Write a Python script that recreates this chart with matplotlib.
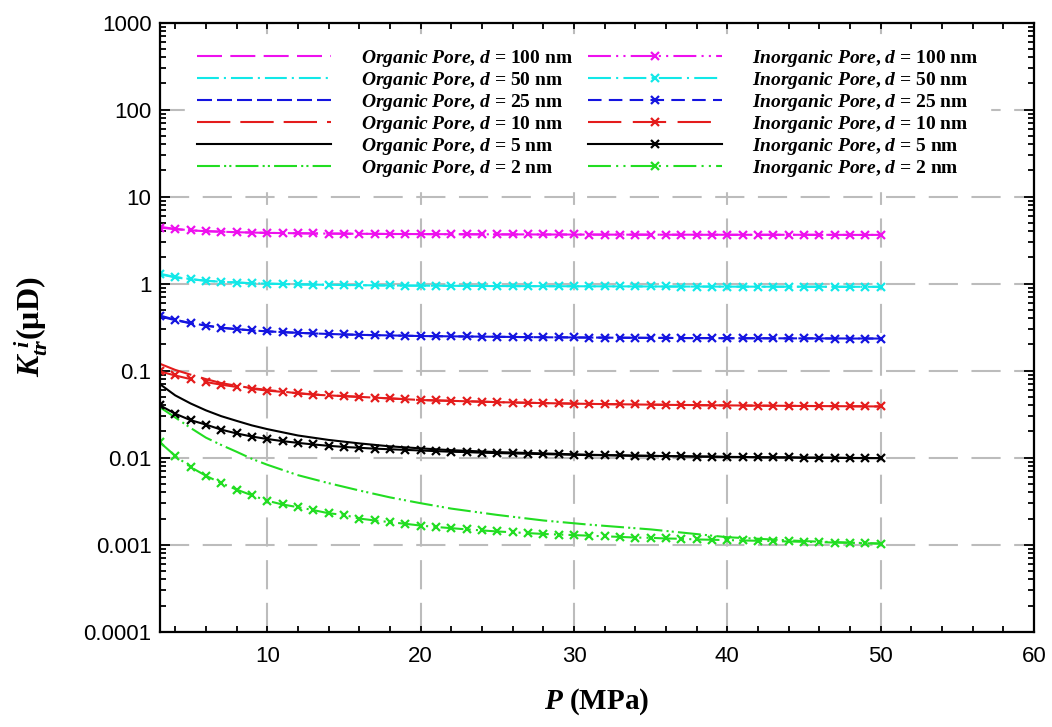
"""
Apparent permeability K_tr^i vs pore pressure for organic and inorganic
pores of different diameters (log y-axis), two-column legend on top.
"""

import matplotlib
matplotlib.use("Agg")
import matplotlib.pyplot as plt
from matplotlib.ticker import FixedLocator, MultipleLocator, LogLocator, FuncFormatter, NullFormatter

# ---- data ----
# inorganic pores are sampled every 1 MPa (each sample is an 'x' marker)
P_INORG = [3, 4, 5, 6, 7, 8, 9, 10, 11, 12, 13, 14, 15, 16, 17, 18, 19, 20,
           21, 22, 23, 24, 25, 26, 27, 28, 29, 30, 31, 32, 33, 34, 35, 36, 37,
           38, 39, 40, 41, 42, 43, 44, 45, 46, 47, 48, 49, 50]
# organic pores: plain lines, coarser sampling
P_ORG = [3, 4, 5, 6, 7, 8, 9, 10, 12, 14, 16, 18, 20, 22, 25, 28, 31, 35, 40, 45, 50]

DIAMETERS = [100, 50, 25, 10, 5, 2]

org_100 = [4.50, 4.25, 4.10, 4.00, 3.95, 3.90, 3.86, 3.83, 3.79, 3.76, 3.74,
           3.72, 3.71, 3.70, 3.68, 3.67, 3.66, 3.65, 3.64, 3.64, 3.63]
org_50 = [1.30, 1.19, 1.13, 1.08, 1.05, 1.03, 1.01, 1.00, 0.98, 0.97, 0.96,
          0.952, 0.948, 0.944, 0.938, 0.935, 0.932, 0.928, 0.924, 0.921, 0.919]
org_25 = [0.43, 0.385, 0.352, 0.33, 0.312, 0.30, 0.29, 0.283, 0.272, 0.264,
          0.258, 0.254, 0.25, 0.248, 0.245, 0.242, 0.240, 0.238, 0.236, 0.235, 0.234]
org_10 = [0.120, 0.102, 0.090, 0.080, 0.072, 0.067, 0.063, 0.060, 0.055, 0.052,
          0.050, 0.048, 0.046, 0.045, 0.0435, 0.0424, 0.0415, 0.0407, 0.0399,
          0.0393, 0.0388]
org_5 = [0.070, 0.052, 0.042, 0.035, 0.030, 0.0265, 0.0235, 0.0213, 0.0180,
         0.0160, 0.0146, 0.0135, 0.0128, 0.0122, 0.0116, 0.0112, 0.0108, 0.0105,
         0.0102, 0.0100, 0.0099]
org_2 = [0.038, 0.029, 0.022, 0.0170, 0.0140, 0.0117, 0.0097, 0.0083, 0.0063,
         0.0051, 0.0042, 0.0035, 0.0030, 0.0026, 0.0022, 0.0019, 0.0017, 0.0015,
         0.00122, 0.0011, 0.00103]

inorg_100 = [4.40, 4.22, 4.10, 4.01, 3.95, 3.90, 3.86, 3.83, 3.81, 3.79, 3.77,
             3.76, 3.75, 3.74, 3.73, 3.72, 3.72, 3.71, 3.70, 3.70, 3.69, 3.69,
             3.68, 3.68, 3.68, 3.67, 3.67, 3.67, 3.66, 3.66, 3.66, 3.66, 3.65,
             3.65, 3.65, 3.65, 3.65, 3.64, 3.64, 3.64, 3.64, 3.64, 3.64, 3.63,
             3.63, 3.63, 3.63, 3.63]
inorg_50 = [1.28, 1.18, 1.12, 1.08, 1.05, 1.03, 1.01, 1.00, 0.99, 0.98, 0.975,
            0.97, 0.965, 0.96, 0.955, 0.952, 0.95, 0.948, 0.946, 0.944, 0.942,
            0.94, 0.938, 0.937, 0.936, 0.935, 0.934, 0.933, 0.932, 0.931, 0.93,
            0.929, 0.928, 0.927, 0.926, 0.925, 0.925, 0.924, 0.923, 0.923, 0.922,
            0.922, 0.921, 0.921, 0.92, 0.92, 0.919, 0.919]
inorg_25 = [0.42, 0.38, 0.35, 0.33, 0.31, 0.30, 0.29, 0.283, 0.277, 0.272,
            0.268, 0.264, 0.261, 0.258, 0.256, 0.254, 0.252, 0.250, 0.249, 0.248,
            0.247, 0.246, 0.245, 0.244, 0.243, 0.242, 0.242, 0.241, 0.240, 0.240,
            0.239, 0.239, 0.238, 0.238, 0.237, 0.237, 0.237, 0.236, 0.236, 0.236,
            0.235, 0.235, 0.235, 0.235, 0.234, 0.234, 0.234, 0.234]
inorg_10 = [0.098, 0.088, 0.080, 0.074, 0.069, 0.065, 0.062, 0.059, 0.057, 0.055,
            0.053, 0.052, 0.051, 0.050, 0.049, 0.048, 0.047, 0.046, 0.0455, 0.045,
            0.0445, 0.044, 0.0435, 0.043, 0.0427, 0.0424, 0.0421, 0.0418, 0.0415,
            0.0413, 0.0411, 0.0409, 0.0407, 0.0405, 0.0403, 0.0401, 0.040, 0.0399,
            0.0397, 0.0396, 0.0395, 0.0394, 0.0393, 0.0392, 0.0391, 0.039, 0.0389,
            0.0388]
inorg_5 = [0.040, 0.032, 0.027, 0.024, 0.021, 0.019, 0.0175, 0.0164, 0.0155,
           0.0148, 0.0142, 0.0137, 0.0133, 0.0130, 0.0127, 0.0125, 0.0123, 0.0121,
           0.0119, 0.0117, 0.0116, 0.0114, 0.0113, 0.0112, 0.0111, 0.0110, 0.0109,
           0.0108, 0.0107, 0.0107, 0.0106, 0.0105, 0.0105, 0.0104, 0.0104, 0.0103,
           0.0103, 0.0102, 0.0102, 0.0101, 0.0101, 0.0101, 0.0100, 0.0100, 0.0100,
           0.0099, 0.0099, 0.0099]
inorg_2 = [0.0150, 0.0105, 0.0078, 0.0062, 0.0051, 0.0043, 0.0037, 0.0032, 0.0029,
           0.0027, 0.0025, 0.0023, 0.0022, 0.0020, 0.0019, 0.00182, 0.00174,
           0.00166, 0.0016, 0.00155, 0.0015, 0.00146, 0.00142, 0.00139, 0.00136,
           0.00133, 0.00131, 0.00129, 0.00127, 0.00125, 0.00123, 0.00121, 0.0012,
           0.00118, 0.00117, 0.00115, 0.00114, 0.00113, 0.00112, 0.00111, 0.0011,
           0.00109, 0.00108, 0.00107, 0.00106, 0.00105, 0.00104, 0.00103]

ORG_SERIES = [org_100, org_50, org_25, org_10, org_5, org_2]
INORG_SERIES = [inorg_100, inorg_50, inorg_25, inorg_10, inorg_5, inorg_2]

Y_TICKS = [1e-4, 1e-3, 1e-2, 1e-1, 1, 10, 100, 1000]
X_TICKS = [10, 20, 30, 40, 50, 60]

# ---- styles ----
COLORS = ["#ee10ee", "#12e8e8", "#1414e0", "#e41c1c", "#000000", "#22dd22"]
DASH_DOT_DOT = (0, (11, 2.5, 1, 2.5, 1, 2.5))
ORG_STYLES = [(0, (12, 4)), (0, (10.5, 2.4, 1, 2.4)), (0, (7.2, 2.4)),
              (0, (16, 4.8)), "-", (0, (11, 2, 1, 1.5, 1, 2))]
INORG_STYLES = [DASH_DOT_DOT, (0, (11, 2.5, 1, 2.5)), (0, (6.5, 3.5)),
                (0, (16, 5.5)), "-", DASH_DOT_DOT]

SERIF = "Liberation Serif"
plt.rcParams["mathtext.fontset"] = "custom"
plt.rcParams["mathtext.rm"] = SERIF + ":bold"
plt.rcParams["mathtext.bf"] = SERIF + ":bold"
plt.rcParams["mathtext.it"] = SERIF + ":italic:bold"
plt.rcParams["font.family"] = "Liberation Sans"


def main():
    fig = plt.figure(figsize=(10.52, 7.27), dpi=100)
    ax = fig.add_axes([0.152, 0.131, 0.831, 0.838])

    handles = []
    for vals, col, ls, d in zip(ORG_SERIES, COLORS, ORG_STYLES, DIAMETERS):
        h, = ax.plot(P_ORG, vals, color=col, linestyle=ls, lw=1.5,
                     label=r"$Organic$ $Pore$, $d$ = %d nm" % d)
        handles.append(h)
    for vals, col, ls, d in zip(INORG_SERIES, COLORS, INORG_STYLES, DIAMETERS):
        h, = ax.plot(P_INORG, vals, color=col, linestyle=ls, lw=1.5,
                     marker="x", markersize=5.5, markeredgewidth=1.6,
                     label=r"$Inorganic$ $Pore$, $d$ = %d nm" % d)
        handles.append(h)

    ax.set_yscale("log")
    ax.set_xlim(3, 60)
    ax.set_ylim(1e-4, 1000)

    ax.xaxis.set_major_locator(FixedLocator(X_TICKS))
    ax.xaxis.set_minor_locator(MultipleLocator(2))
    ax.yaxis.set_major_locator(FixedLocator(Y_TICKS))
    ax.yaxis.set_minor_locator(LogLocator(base=10, subs=range(2, 10), numticks=20))
    ax.yaxis.set_major_formatter(FuncFormatter(lambda v, pos: "%g" % v))
    ax.yaxis.set_minor_formatter(NullFormatter())

    ax.tick_params(axis="both", which="both", direction="in", top=True, right=True,
                   width=1.3, colors="black", labelsize=16)
    ax.tick_params(axis="x", which="major", length=4.5, pad=10)
    ax.tick_params(axis="x", which="minor", length=4.5)
    ax.tick_params(axis="y", which="major", length=7, pad=6)
    ax.tick_params(axis="y", which="minor", length=4)
    for sp in ax.spines.values():
        sp.set_linewidth(1.6)

    ax.set_axisbelow(True)
    ax.grid(True, which="major", color="#bcbcbc", lw=1.5, linestyle=(0, (14, 6.5)))

    ax.set_xlabel(r"$P$ (MPa)", fontsize=21, family=SERIF, weight="bold", labelpad=14)
    ax.set_ylabel(r"$K_{tr}^{\ i}$(μD)", fontsize=23, family=SERIF, weight="bold",
                  labelpad=24)

    leg = ax.legend(handles=handles, ncol=2, loc="upper left",
                    bbox_to_anchor=(0.018, 0.993), numpoints=1,
                    prop={"family": SERIF, "weight": "bold", "size": 14},
                    handlelength=6.9, handletextpad=1.55, columnspacing=0.75,
                    labelspacing=0.05, borderpad=0.6,
                    frameon=True, fancybox=False, framealpha=1.0,
                    edgecolor="white", facecolor="white")
    leg.set_zorder(5)

    fig.savefig("out.png", dpi=100)
    plt.close(fig)


if __name__ == "__main__":
    main()
